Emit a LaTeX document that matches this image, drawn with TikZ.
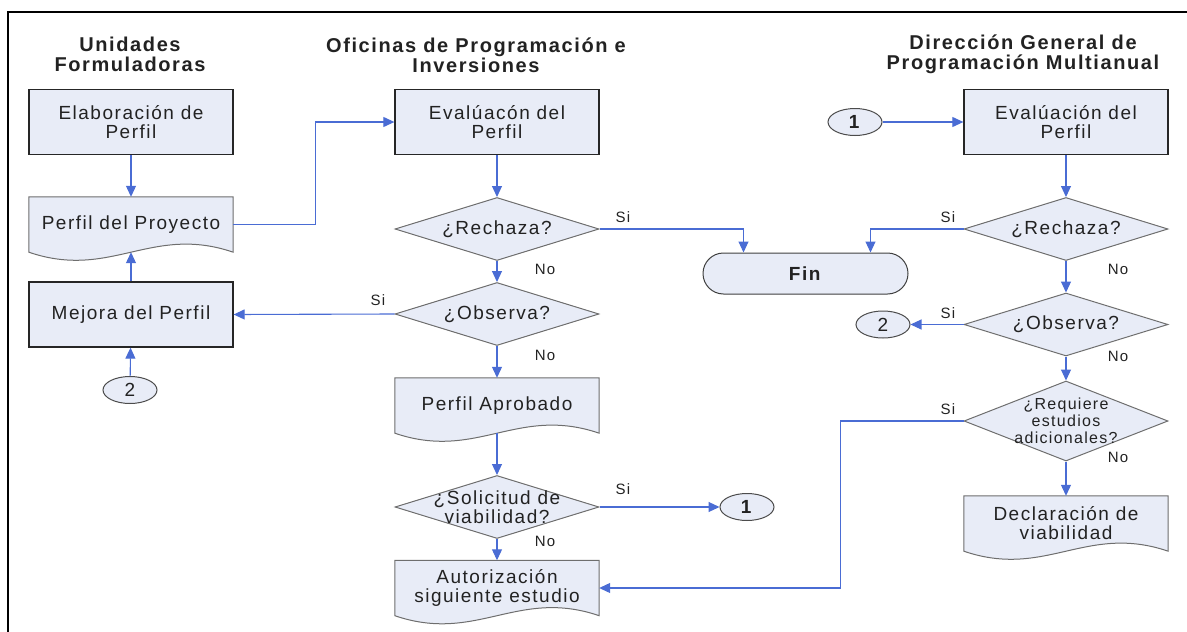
\documentclass[tikz,border=0pt]{standalone}
\usepackage{fontspec}
\setmainfont{Liberation Sans}[LetterSpace=8]
\usepackage{tikz}
\usetikzlibrary{arrows.meta}
\usetikzlibrary{shapes.geometric}
\usetikzlibrary{backgrounds}

\definecolor{boxfill}{HTML}{E8ECF7}
\definecolor{linkblue}{HTML}{4A6CD4}
\definecolor{edgegray}{HTML}{6E6E6E}
\definecolor{inkgray}{HTML}{222222}

% outline of a document shape (wavy bottom) round a named node
\newcommand{\docwave}[1]{%
  \draw[docline] (#1.north west) -- (#1.north east) -- (#1.south east)
    .. controls +(-82,-28) and +(82,28) .. (#1.south west) -- cycle;}

\begin{document}
\begin{tikzpicture}[x=1pt, y=-1pt,
    font=\fontsize{19}{19}\selectfont, text=inkgray,
    proc/.style={draw=black!85, line width=1.3pt, fill=boxfill, minimum width=204pt, minimum height=65pt, align=center, inner sep=0pt},
    decision/.style={diamond, draw=edgegray, line width=1pt, fill=boxfill, minimum width=204pt, minimum height=63pt, inner sep=0pt},
    docnode/.style={minimum width=204pt, minimum height=55pt, align=center, inner sep=0pt},
    docline/.style={draw=edgegray, line width=1pt, fill=boxfill},
    offpage/.style={ellipse, draw=black!70, line width=1pt, fill=boxfill, minimum width=54pt, minimum height=27pt, inner sep=0pt},
    terminal/.style={draw=black!75, line width=1pt, fill=boxfill, rounded corners=20.5pt, minimum width=205pt, minimum height=41pt},
    header/.style={font=\fontsize{20}{20}\selectfont\bfseries, align=center},
    answer/.style={font=\fontsize{15}{16}\selectfont},
    flow/.style={draw=linkblue, line width=1.1pt, -{Triangle[length=11pt,width=10pt]}}
  ]

        \useasboundingbox (0,0) rectangle (1187,632);
        \draw[line width=1.5pt] (1187,12) -- (8,12) -- (8,632);

        % headers
        \node[header] (hdrUF) at (130,54) {Unidades\\Formuladoras};
        \node[header] (hdrOPI) at (476,55) {Oficinas de Programación e\\Inversiones};
        \node[header] (hdrDG) at (1023,54) {Dirección General de\\Programación Multianual};

        % Unidades Formuladoras
        \node[proc] (elab) at (131,122) {Elaboración de\\Perfil};
        \node[docnode] (perfil) at (131,224.5) {Perfil del Proyecto};
        \node[proc] (mejora) at (131,314.5) {Mejora del Perfil};
        \node[offpage] (c2a) at (130,390) {2};

        % Oficinas de Programacion e Inversiones
        \node[proc] (evalA) at (497,122) {Evalúacón del\\Perfil};
        \node[decision, label={center:¿Rechaza?}] (rechA) at (497,229) {};
        \node[decision, label={center:¿Observa?}] (obsA) at (497,314) {};
        \node[docnode] (aprob) at (497,405.5) {Perfil Aprobado};
        \node[decision, label={[align=center]center:{¿Solicitud de\\viabilidad?}}] (solA) at (497,507) {};
        \node[docnode] (aut) at (497,588) {Autorización\\siguiente estudio};
        \node[offpage] (c1a) at (747,507) {\textbf{1}};
        \node[terminal] (fin) at (805.5,273.5) {\textbf{Fin}};

        % Direccion General
        \node[offpage] (c1b) at (855,122) {\textbf{1}};
        \node[proc] (evalB) at (1066,122) {Evalúación del\\Perfil};
        \node[decision, label={center:¿Rechaza?}] (rechB) at (1066,229) {};
        \node[decision, label={center:¿Observa?}] (obsB) at (1066,324.5) {};
        \node[offpage] (c2b) at (883,324.5) {2};
        \node[decision, minimum height=80pt, label={[align=center, font=\fontsize{16}{17}\selectfont]center:{¿Requiere\\estudios\\adicionales?}}] (reqB) at (1066,421) {};
        \node[docnode] (decl) at (1066,523.5) {Declaración de\\viabilidad};

        \begin{scope}[on background layer]
          \docwave{perfil}
          \docwave{aprob}
          \docwave{aut}
          \docwave{decl}
        \end{scope}

        % answers
        \node[answer] (siRA) at (623,217) {Si};
        \node[answer] (noRA) at (545,269) {No};
        \node[answer] (siOA) at (378,300) {Si};
        \node[answer] (noOA) at (545,355) {No};
        \node[answer] (siSA) at (623,489) {Si};
        \node[answer] (noSA) at (545,541) {No};
        \node[answer] (siRB) at (948,217) {Si};
        \node[answer] (noRB) at (1118,269) {No};
        \node[answer] (siOB) at (948,313) {Si};
        \node[answer] (noOB) at (1118,356) {No};
        \node[answer] (siQB) at (948,409) {Si};
        \node[answer] (noQB) at (1118,457) {No};

        % connectors
        \draw[flow] (elab) -- (perfil);
        \draw[flow] (mejora) -- (perfil.south);
        \draw[flow] (c2a) -- (mejora);
        \draw[flow] (perfil.east) -- ++(82,0) |- (evalA.west);
        \draw[flow] (evalA) -- (rechA);
        \draw[flow] (rechA.east) -| ([shift={(-62,0)}]fin.north);
        \draw[flow] (rechA) -- (obsA);
        \draw[flow] (obsA.west) -- (mejora.east);
        \draw[flow] (obsA) -- (aprob);
        \draw[flow] (aprob.south) -- (solA);
        \draw[flow] (solA.east) -- (c1a.west);
        \draw[flow] (solA) -- (aut);
        \draw[flow] (c1b) -- (evalB);
        \draw[flow] (evalB) -- (rechB);
        \draw[flow] (rechB.west) -| ([shift={(65,0)}]fin.north);
        \draw[flow] (rechB) -- (obsB);
        \draw[flow] (obsB.west) -- (c2b.east);
        \draw[flow] (obsB) -- (reqB);
        \draw[flow] (reqB.west) -- ++(-123,0) |- (aut.east);
        \draw[flow] (reqB) -- (decl);

      \end{tikzpicture}
\end{document}
